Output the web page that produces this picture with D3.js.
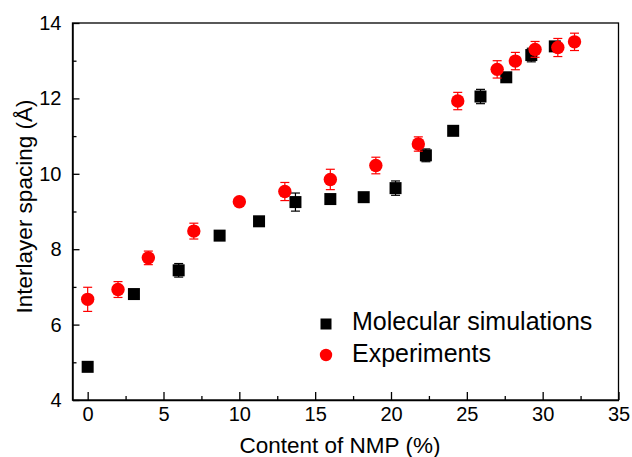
<!DOCTYPE html>
<html>
<head>
<meta charset="utf-8">
<script src="https://cdn.jsdelivr.net/npm/d3@7"></script>
<style>
  body { margin: 0; background: #fff; }
  svg { font-family: "Liberation Sans", Arial, sans-serif; }
</style>
</head>
<body>
<svg id="chart"></svg>
<script>
// molecular simulations
const simX = [0, 3.05, 6.0, 8.7, 11.3, 13.7, 16.0, 18.2, 20.3, 22.3, 24.1, 25.9, 27.6, 29.25, 30.8];
const simY = [4.88, 6.81, 7.44, 8.36, 8.74, 9.25, 9.33, 9.38, 9.62, 10.49, 11.14, 12.05, 12.56, 13.15, 13.38];
const simErr = [0.12, 0.05, 0.18, 0.1, 0.05, 0.24, 0.05, 0.05, 0.19, 0.17, 0.05, 0.19, 0.05, 0.18, 0.1];

// experiments
const expX = [0, 2, 4, 7, 10, 13, 16, 19, 21.8, 24.4, 27, 28.2, 29.5, 31, 32.1];
const expY = [6.67, 6.93, 7.77, 8.48, 9.26, 9.53, 9.85, 10.22, 10.79, 11.93, 12.77, 12.99, 13.3, 13.35, 13.5];
const expErr = [0.32, 0.21, 0.18, 0.21, 0.08, 0.24, 0.27, 0.22, 0.19, 0.23, 0.23, 0.23, 0.21, 0.24, 0.23];

const xTicks = [0, 5, 10, 15, 20, 25, 30, 35];
const xMinor = [2.5, 7.5, 12.5, 17.5, 22.5, 27.5, 32.5];
const yTicks = [4, 6, 8, 10, 12, 14];
const yMinor = [5, 7, 9, 11, 13];

const legendNames = ["Molecular simulations", "Experiments"];

const w = 632, h = 457;
const pLeft = 72.5, pRight = 618.5, pTop = 23, pBottom = 400;

const svg = d3.select("#chart").attr("width", w).attr("height", h);

const x = d3.scaleLinear().domain([-1, 35]).range([pLeft, pRight]);
const y = d3.scaleLinear().domain([4, 14]).range([pBottom, pTop]);

// frame
svg.append("rect")
  .attr("x", pLeft).attr("y", pTop)
  .attr("width", pRight - pLeft).attr("height", pBottom - pTop)
  .attr("fill", "none").attr("stroke", "#000").attr("stroke-width", 1.3);

// x axis
svg.append("g")
  .attr("transform", `translate(0, ${pBottom})`)
  .call(d3.axisBottom(x).tickValues(xTicks).tickSize(-8).tickSizeOuter(0).tickPadding(7))
  .call((g) => g.select(".domain").attr("stroke-width", 1.5))
  .call((g) => g.selectAll("line").attr("stroke-width", 1.3))
  .call((g) => g.selectAll("text").attr("font-size", 20).attr("font-family", "Liberation Sans, Arial, sans-serif").attr("fill", "#000"));

svg.append("g")
  .attr("transform", `translate(0, ${pBottom})`)
  .call(d3.axisBottom(x).tickValues(xMinor).tickSize(-4).tickSizeOuter(0).tickFormat(""))
  .call((g) => g.select(".domain").remove())
  .call((g) => g.selectAll("line").attr("stroke-width", 1.3));

// y axis
svg.append("g")
  .attr("transform", `translate(${pLeft}, 0)`)
  .call(d3.axisLeft(y).tickValues(yTicks).tickSize(-7).tickSizeOuter(0).tickPadding(11))
  .call((g) => g.select(".domain").attr("stroke-width", 1.5))
  .call((g) => g.selectAll("line").attr("stroke-width", 1.3))
  .call((g) => g.selectAll("text").attr("font-size", 20).attr("font-family", "Liberation Sans, Arial, sans-serif").attr("fill", "#000"));

svg.append("g")
  .attr("transform", `translate(${pLeft}, 0)`)
  .call(d3.axisLeft(y).tickValues(yMinor).tickSize(-4).tickSizeOuter(0).tickFormat(""))
  .call((g) => g.select(".domain").remove())
  .call((g) => g.selectAll("line").attr("stroke-width", 1.3));

// axis titles
svg.append("text")
  .attr("x", 340).attr("y", 453)
  .attr("text-anchor", "middle")
  .attr("font-size", 22.5)
  .text("Content of NMP (%)");

svg.append("text")
  .attr("transform", "translate(31.5, 206.5) rotate(-90)")
  .attr("text-anchor", "middle")
  .attr("font-size", 22.5)
  .text("Interlayer spacing (Å)");

const cap = 4.5;

function errorBars(xs, ys, es, color) {
  const g = svg.append("g").attr("stroke", color).attr("stroke-width", 1.2);
  xs.forEach((v, i) => {
    const cx = x(v), y1 = y(ys[i] - es[i]), y2 = y(ys[i] + es[i]);
    g.append("line").attr("x1", cx).attr("x2", cx).attr("y1", y1).attr("y2", y2);
    g.append("line").attr("x1", cx - cap).attr("x2", cx + cap).attr("y1", y1).attr("y2", y1);
    g.append("line").attr("x1", cx - cap).attr("x2", cx + cap).attr("y1", y2).attr("y2", y2);
  });
}

// simulations (squares)
errorBars(simX, simY, simErr, "#000");
const sq = 12;
svg.append("g")
  .selectAll("rect")
  .data(simX)
  .enter()
  .append("rect")
  .attr("x", (d) => x(d) - sq / 2)
  .attr("y", (d, i) => y(simY[i]) - sq / 2)
  .attr("width", sq)
  .attr("height", sq)
  .attr("fill", "#000");

// experiments (circles)
errorBars(expX, expY, expErr, "#ff0000");
svg.append("g")
  .selectAll("circle")
  .data(expX)
  .enter()
  .append("circle")
  .attr("cx", (d) => x(d))
  .attr("cy", (d, i) => y(expY[i]))
  .attr("r", 6.7)
  .attr("fill", "#ff0000");

// legend
const lg = svg.append("g");
lg.append("rect")
  .attr("x", 326 - 5.5).attr("y", 324 - 5.5)
  .attr("width", 11).attr("height", 11)
  .attr("fill", "#000");
lg.append("circle")
  .attr("cx", 326).attr("cy", 355)
  .attr("r", 6.2)
  .attr("fill", "#ff0000");
lg.append("text")
  .attr("x", 352).attr("y", 330)
  .attr("font-size", 25)
  .text(legendNames[0]);
lg.append("text")
  .attr("x", 352).attr("y", 361.5)
  .attr("font-size", 25)
  .text(legendNames[1]);
</script>
</body>
</html>
